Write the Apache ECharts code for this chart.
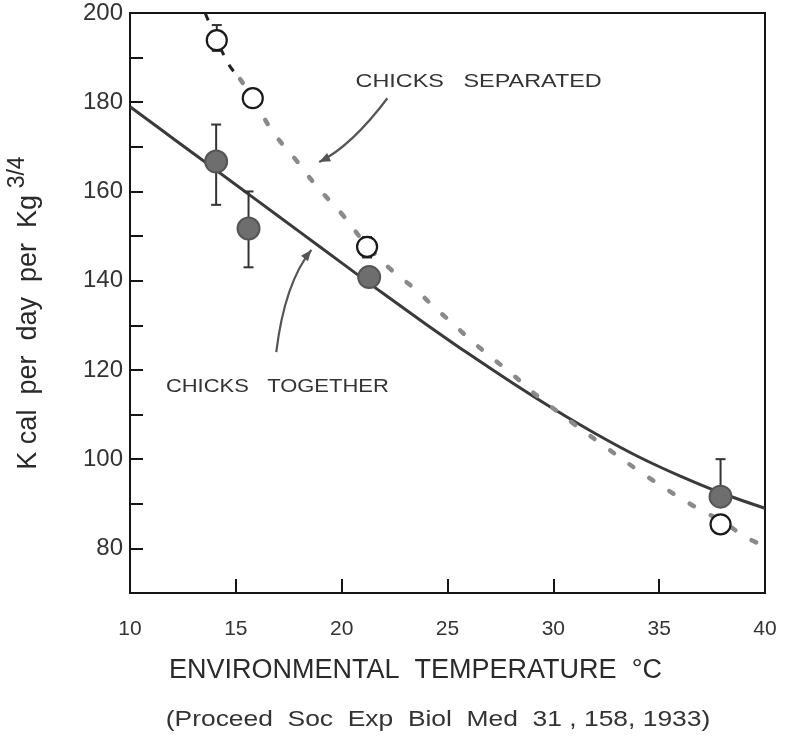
<!DOCTYPE html>
<html><head><meta charset="utf-8">
<script src="https://cdn.jsdelivr.net/npm/echarts@6/dist/echarts.min.js"></script>
<style>html,body{margin:0;padding:0;background:#fff}#c{width:785px;height:749px}</style>
</head><body><div id="c"></div>
<script>
// ---- data ----
const xTicks = [10, 15, 20, 25, 30, 35, 40];
const yTickLabels = [80, 100, 120, 140, 160, 180, 200];
const togetherPoints = [[14.07, 166.7], [15.6, 151.7], [21.3, 140.8], [37.9, 91.6]];
const togetherErrors = [[14.07, 157, 175], [15.6, 143, 160], [37.9, 91.6, 100]];
const separatedPoints = [[14.1, 193.9], [15.8, 180.9], [21.2, 147.6], [37.9, 85.4]];
const separatedErrors = [[14.1, 191.5, 197.3], [21.2, 145.2, 149.8]];
const togetherCurve = [[10, 179], [12, 172], [14, 165], [16, 158], [18, 151], [20, 144], [22, 137], [24, 130.2], [26, 123.6], [28, 117.3], [30, 111.3], [32, 105.7], [34, 100.6], [36, 96.2], [38, 92.3], [40, 89]];
const separatedCurveDashed = [[13.55, 200], [14.1, 193.9], [14.7, 188.2], [15.2, 185.2]];
const separatedCurveDotted = [[15.2, 185.2], [15.8, 180.9], [16.6, 174.4], [17.2, 170.6], [17.9, 166.7], [18.4, 163.6], [19.0, 160.2], [20.0, 155.0], [21.2, 147.9], [22.4, 142.2], [23.5, 138.0], [24.3, 134.4], [25.2, 130.6], [26.1, 126.7], [27.1, 122.7], [28.0, 119.3], [28.9, 115.5], [29.8, 112.1], [31.0, 107.8], [32.5, 102.6], [34.0, 97.5], [35.2, 93.7], [36.1, 91.0], [37.0, 88.5], [38.0, 86.0], [39.1, 82.5], [40, 80.5]];
// annotation anchors (data coordinates): start, control, end
const arrowSeparated = [[22.16, 180.9], [20.46, 170.2], [18.94, 166.6]];
const arrowTogether = [[16.91, 124.0], [17.31, 139.5], [18.57, 146.9]];
const labelSeparated = [26.47, 184.5];
const labelTogether = [16.96, 116.1];

const chart = echarts.init(document.getElementById('c'), null, {renderer: 'canvas'});
const ink = '#151515';
const fontFam = '"Liberation Sans", "DejaVu Sans", sans-serif';

function errRender(params, api) {
  const x = api.value(0), lo = api.value(1), hi = api.value(2);
  const a = api.coord([x, lo]), b = api.coord([x, hi]);
  const w = 5;
  const style = {stroke: '#333', lineWidth: 2};
  return {type: 'group', children: [
    {type: 'line', shape: {x1: a[0], y1: a[1], x2: b[0], y2: b[1]}, style: style},
    {type: 'line', shape: {x1: a[0] - w, y1: a[1], x2: a[0] + w, y2: a[1]}, style: style},
    {type: 'line', shape: {x1: b[0] - w, y1: b[1], x2: b[0] + w, y2: b[1]}, style: style}
  ]};
}

chart.setOption({
  animation: false,
  backgroundColor: '#fff',
  grid: {left: 130, right: 20, top: 13, bottom: 156, containLabel: false, outerBoundsMode: 'none',
    show: true, borderColor: ink, borderWidth: 2, backgroundColor: 'transparent'},
  xAxis: {
    type: 'value', min: 10, max: 40, interval: 5,
    axisLine: {lineStyle: {color: ink, width: 2}},
    axisTick: {inside: true, length: 14, lineStyle: {color: ink, width: 2}},
    splitLine: {show: false},
    axisLabel: {margin: 26, fontSize: 21, color: '#333', fontFamily: fontFam,
      formatter: v => xTicks.includes(v) ? String(v) : ''},
    name: 'ENVIRONMENTAL  TEMPERATURE  °C', nameLocation: 'middle', nameGap: 64,
    nameTextStyle: {fontSize: 27, color: '#2a2a2a', fontFamily: fontFam, padding: [0, 64, 0, 0]}
  },
  yAxis: {
    type: 'value', min: 70, max: 200, interval: 10,
    axisLine: {lineStyle: {color: ink, width: 2}},
    axisTick: {inside: true, length: 13, lineStyle: {color: ink, width: 2}},
    splitLine: {show: false},
    axisLabel: {margin: 7, fontSize: 24, color: '#333', fontFamily: fontFam,
      formatter: v => yTickLabels.includes(v) ? String(v) : ''},
    name: '{m|K cal  per  day  per  Kg}  {s|3/4}', nameLocation: 'middle', nameGap: 88,
    nameTextStyle: {color: '#2a2a2a', fontFamily: fontFam, padding: [0, 20, 0, 0],
      rich: {m: {fontSize: 27, color: '#2a2a2a', fontFamily: fontFam, lineHeight: 36, verticalAlign: 'bottom'},
             s: {fontSize: 23, color: '#2a2a2a', fontFamily: fontFam, lineHeight: 36, verticalAlign: 'top'}}}
  },
  series: [
    {type: 'line', data: togetherCurve, smooth: 0.4, showSymbol: false, symbol: 'none', clip: true,
      lineStyle: {color: '#3a3a3a', width: 3}, z: 2},
    {type: 'line', data: separatedCurveDashed, smooth: 0.3, symbol: 'none', clip: true,
      lineStyle: {color: '#222', width: 3, type: [8, 11]}, z: 2},
    {type: 'line', data: separatedCurveDotted, smooth: 0.4, symbol: 'none', clip: true,
      lineStyle: {color: '#8a8a8a', width: 4.5, type: [5, 19], cap: 'round'}, z: 2},
    {type: 'custom', data: togetherErrors, renderItem: errRender, encode: {x: 0, y: [1, 2]}, z: 3},
    {type: 'custom', data: separatedErrors, renderItem: errRender, encode: {x: 0, y: [1, 2]}, z: 3},
    {type: 'scatter', data: togetherPoints, symbol: 'circle', symbolSize: 22,
      itemStyle: {color: '#6e6e6e', borderColor: '#555', borderWidth: 2, opacity: 1}, z: 4},
    {type: 'scatter', data: separatedPoints, symbol: 'circle', symbolSize: 20,
      itemStyle: {color: '#fff', borderColor: '#1a1a1a', borderWidth: 2.2, opacity: 1}, z: 5}
  ]
});

function px(p) { return chart.convertToPixel({gridIndex: 0}, p); }
function arrow(pts) {
  const a = px(pts[0]), c = px(pts[1]), b = px(pts[2]);
  let dx = b[0] - c[0], dy = b[1] - c[1];
  const L = Math.hypot(dx, dy); dx /= L; dy /= L;
  const nx = -dy, ny = dx;
  const bl = 11, hw = 4.5;
  return [
    {type: 'bezierCurve', shape: {x1: a[0], y1: a[1], x2: b[0], y2: b[1], cpx1: c[0], cpy1: c[1]},
      style: {stroke: '#555', lineWidth: 2.2, fill: null}, z: 10},
    {type: 'polygon', shape: {points: [[b[0], b[1]], [b[0] - dx * bl + nx * hw, b[1] - dy * bl + ny * hw], [b[0] - dx * bl - nx * hw, b[1] - dy * bl - ny * hw]]},
      style: {fill: '#555'}, z: 10}
  ];
}
const ls = px(labelSeparated), lt = px(labelTogether);
chart.setOption({graphic: [].concat(
  arrow(arrowSeparated), arrow(arrowTogether),
  [
    {type: 'text', x: ls[0], y: ls[1], scaleX: 1.3, originX: 0, originY: 0,
      style: {text: 'CHICKS   SEPARATED', font: '18px ' + fontFam, fill: '#333', align: 'center', verticalAlign: 'middle'}, z: 10},
    {type: 'text', x: lt[0], y: lt[1], scaleX: 1.22, originX: 0, originY: 0,
      style: {text: 'CHICKS   TOGETHER', font: '18px ' + fontFam, fill: '#333', align: 'center', verticalAlign: 'middle'}, z: 10},
    {type: 'text', x: 438, y: 720, scaleX: 1.2, originX: 0, originY: 0,
      style: {text: '(Proceed  Soc  Exp  Biol  Med  31 , 158, 1933)', font: '22px ' + fontFam, fill: '#333', align: 'center', verticalAlign: 'middle'}, z: 10}
  ]
)});
</script>
</body></html>
